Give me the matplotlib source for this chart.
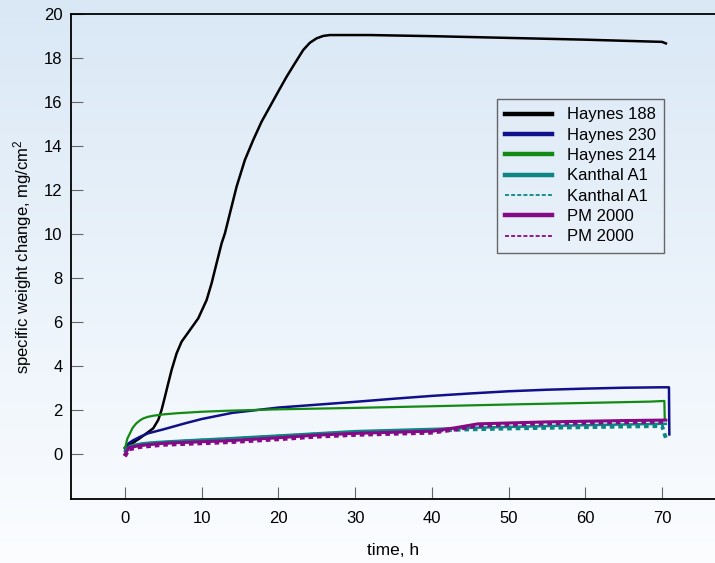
import matplotlib
matplotlib.use('Agg')
import matplotlib.pyplot as plt
import numpy as np

plt.rcParams['font.family'] = ['Liberation Sans', 'DejaVu Sans']
plt.rcParams['mathtext.fontset'] = 'custom'
plt.rcParams['mathtext.rm'] = 'Liberation Sans'
plt.rcParams['mathtext.it'] = 'Liberation Sans'

# values (time in h, weight change in mg/cm2)
t_h188 = [0, 1.95, 3.69, 4.34, 4.77, 5.21, 5.64, 6.08, 6.73, 7.38, 8.47, 9.55, 10.64,
          11.29, 11.94, 12.6, 13.03, 13.68, 14.55, 15.63, 16.72, 17.81, 18.89, 19.97,
          21.07, 22.15, 23.23, 24.1, 24.97, 25.84, 26.7, 31.9, 40, 50, 60, 70, 70.5]
w_h188 = [0.27, 0.73, 1.18, 1.56, 2.01, 2.61, 3.22, 3.83, 4.58, 5.11, 5.64, 6.17, 7.0,
          7.76, 8.67, 9.58, 10.03, 10.94, 12.15, 13.36, 14.27, 15.1, 15.78, 16.46,
          17.14, 17.75, 18.35, 18.68, 18.88, 18.99, 19.03, 19.03, 18.98, 18.9, 18.82,
          18.72, 18.65]

t_h230 = [0, 0.5, 1, 2, 3, 5, 8, 10, 14, 18, 20, 25, 30, 35, 40, 45, 50, 55, 60, 65, 70,
          70.9, 70.95]
w_h230 = [0.3, 0.5, 0.62, 0.8, 0.95, 1.13, 1.42, 1.6, 1.88, 2.04, 2.12, 2.25, 2.38, 2.52,
          2.65, 2.76, 2.86, 2.93, 2.98, 3.02, 3.04, 3.04, 0.9]

t_h214 = [0, 0.1, 0.3, 0.65, 1.0, 1.5, 2.0, 2.4, 3.0, 3.7, 5.0, 6.7, 10, 13.7, 20, 29.3,
          40, 50, 60, 68.4, 70.3, 70.35]
w_h214 = [0.3, 0.4, 0.7, 0.95, 1.2, 1.41, 1.55, 1.63, 1.7, 1.75, 1.81, 1.86, 1.93, 1.98,
          2.04, 2.1, 2.18, 2.26, 2.33, 2.39, 2.42, 1.56]

t_kan = [0, 0.5, 1, 2.4, 4, 8, 13.7, 20, 25, 30, 35, 40, 45, 50, 55, 60, 65, 70, 70.5]
w_kan = [0.15, 0.35, 0.42, 0.5, 0.55, 0.63, 0.73, 0.85, 0.95, 1.05, 1.1, 1.15, 1.2, 1.24,
         1.28, 1.32, 1.35, 1.38, 1.38]
w_kan2 = [0.1, 0.3, 0.37, 0.45, 0.5, 0.58, 0.68, 0.8, 0.9, 0.99, 1.04, 1.08, 1.13, 1.17,
          1.2, 1.23, 1.26, 1.28, 0.73]

t_pm = [0, 0.5, 2, 5, 13.7, 20, 25, 30, 35, 40, 43, 46, 50, 55, 60, 65, 70, 70.5]
w_pm = [0.0, 0.3, 0.4, 0.5, 0.62, 0.75, 0.87, 0.95, 1.0, 1.05, 1.2, 1.38, 1.42, 1.47,
        1.5, 1.53, 1.55, 1.55]
w_pm2 = [-0.1, 0.22, 0.33, 0.43, 0.55, 0.68, 0.8, 0.88, 0.93, 0.98, 1.12, 1.3, 1.35, 1.4,
         1.43, 1.46, 1.48, 1.48]

fig = plt.figure(figsize=(7.15, 5.63), dpi=100)

# background gradient, light blue at the top fading to white
bg = fig.add_axes([0, 0, 1, 1], zorder=-10)
grad = np.linspace(0, 1, 256).reshape(-1, 1)
top = np.array([0.855, 0.910, 0.963])
bot = np.array([0.985, 0.992, 1.0])
img = top + (bot - top) * grad[:, :, None]
bg.imshow(img, aspect='auto', extent=[0, 1, 0, 1])
bg.axis('off')

ax = fig.add_axes([0.0989, 0.1137, 0.9011, 0.862])
ax.patch.set_alpha(0)

ax.plot(t_h188, w_h188, color='black', lw=1.8, label='Haynes 188')
ax.plot(t_h230, w_h230, color='#10108a', lw=1.8, label='Haynes 230')
ax.plot(t_h214, w_h214, color='#138a13', lw=1.6, label='Haynes 214')
ax.plot(t_kan, w_kan, color='#0e8585', lw=1.8, label='Kanthal A1')
ax.plot(t_kan, w_kan2, color='#0e8585', lw=2.8, ls=(0, (1.2, 1.0)), label='Kanthal A1')
ax.plot(t_pm, w_pm, color='#850a85', lw=2.2, label='PM 2000')
ax.plot(t_pm, w_pm2, color='#850a85', lw=2.8, ls=(0, (1.2, 1.0)), label='PM 2000')

ax.set_xlim(-7.07, 76.9)
ax.set_ylim(-2.03, 20)
ax.set_xticks(np.arange(0, 71, 10))
ax.set_yticks(np.arange(0, 21, 2))
ax.tick_params(direction='in', length=8.5, width=0.8, color='#666666',
               labelsize=12)
ax.tick_params(axis='x', pad=9)
ax.tick_params(axis='y', pad=6)
ax.spines['right'].set_visible(False)
for s in ['left', 'bottom', 'top']:
    ax.spines[s].set_linewidth(1.3)

ax.set_xlabel('time, h', fontsize=12.5, labelpad=12)
ax.set_ylabel('specific weight change, mg/cm$^2$', fontsize=12, labelpad=7)

leg = ax.legend(loc='upper left', bbox_to_anchor=(0.6617, 0.824), borderaxespad=0,
                fontsize=12, frameon=True, fancybox=False, handlelength=2.8,
                handletextpad=0.9, labelspacing=0.32, borderpad=0.5)
leg.get_frame().set_facecolor('none')
leg.get_frame().set_edgecolor('#444444')
leg.get_frame().set_linewidth(1.0)
for ln in leg.get_lines():
    if ln.get_linestyle() == '-':
        ln.set_linewidth(3.2)
    else:
        ln.set_linewidth(1.3)
        ln.set_dashes((2.2, 1.2))

fig.savefig('out.png', dpi=100)
